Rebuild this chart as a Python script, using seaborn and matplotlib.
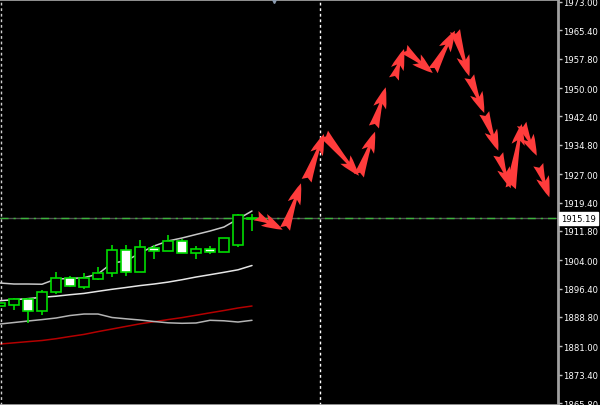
import numpy as np
import pandas as pd
import seaborn as sns
import matplotlib
matplotlib.use("Agg")
import matplotlib.pyplot as plt

# candle data (bar index 0..18)
opens  = [1891.7, 1892.08, 1893.60, 1890.48, 1895.55, 1899.14, 1896.89, 1898.95, 1900.55, 1906.70,
          1900.90, 1907.32, 1906.35, 1909.03, 1905.98, 1906.89, 1906.17, 1908.12, 1915.00]
highs  = [1892.5, 1893.87, 1893.90, 1896.09, 1900.90, 1899.75, 1900.55, 1902.16, 1908.04, 1908.04,
          1909.38, 1908.12, 1910.79, 1909.64, 1907.85, 1907.85, 1909.91, 1916.30, 1916.30]
lows   = [1891.7, 1890.66, 1887.19, 1889.41, 1894.94, 1896.89, 1896.35, 1898.70, 1899.48, 1899.83,
          1900.90, 1904.30, 1906.35, 1905.90, 1904.30, 1905.63, 1906.17, 1907.58, 1911.70]
closes = [1892.5, 1893.60, 1890.48, 1895.55, 1899.30, 1897.16, 1899.14, 1900.55, 1906.70, 1900.90,
          1907.42, 1906.51, 1909.03, 1905.90, 1906.89, 1906.17, 1909.91, 1916.14, 1915.19]

# indicator lines
upper_band = [1897.88, 1897.61, 1897.61, 1897.55, 1898.95, 1899.08, 1899.30, 1900.29, 1903.23, 1903.77,
              1905.90, 1907.77, 1909.11, 1909.91, 1910.85, 1911.78, 1912.85, 1914.99, 1917.13]
mid_line   = [1893.15, 1893.42, 1893.71, 1894.06, 1894.35, 1894.75, 1895.10, 1895.66, 1896.20, 1896.68,
              1897.19, 1897.61, 1898.12, 1898.76, 1899.48, 1900.10, 1900.74, 1901.41, 1902.56]
lower_line = [1886.92, 1887.32, 1887.72, 1888.10, 1888.52, 1889.19, 1889.59, 1889.59, 1888.66, 1888.31,
              1887.99, 1887.59, 1887.24, 1887.11, 1887.19, 1887.91, 1887.78, 1887.45, 1887.91]
red_line   = [1881.57, 1881.89, 1882.21, 1882.51, 1882.99, 1883.58, 1884.14, 1884.89, 1885.58, 1886.28,
              1886.97, 1887.53, 1888.10, 1888.63, 1889.27, 1889.91, 1890.53, 1891.20, 1891.73]

# forecast arrows (start -> end, in bar index / price)
arr_x0 = [18.29, 20.36, 21.90, 23.14, 25.64, 26.71, 28.14, 28.86, 30.93, 32.50, 33.52, 34.59, 35.59, 36.48, 37.26, 38.45]
arr_y0 = [1915.87, 1912.32, 1925.23, 1937.71, 1926.56, 1939.59, 1952.42, 1960.44, 1954.63, 1965.33,
          1953.14, 1943.33, 1932.37, 1923.20, 1940.39, 1929.50]
arr_x1 = [20.19, 21.50, 23.14, 25.64, 26.79, 27.55, 28.86, 30.91, 32.50, 33.52, 34.59, 35.59, 36.48, 37.26, 38.34, 39.24]
arr_y1 = [1912.13, 1924.53, 1937.71, 1926.56, 1938.33, 1950.20, 1960.44, 1954.02, 1965.33, 1953.14,
          1943.33, 1933.25, 1923.20, 1940.39, 1931.91, 1920.79]

price_ticks = [1973.00, 1965.40, 1957.80, 1950.00, 1942.40, 1934.80, 1927.00, 1919.40,
               1911.80, 1904.00, 1896.40, 1888.80, 1881.00, 1873.40, 1865.80]
last_price = 1915.19
separator_x = 22.86
marker_x = 19.6

sns.set_style("dark", {"axes.facecolor": "black", "figure.facecolor": "black"})

fig = plt.figure(figsize=(6, 4.06), dpi=100)
ax = fig.add_axes([0, 0, 558 / 600, 1])
ax.set_facecolor("black")

idx = np.arange(len(opens))
df = pd.DataFrame({"idx": idx, "upper": upper_band, "mid": mid_line, "lower": lower_line, "red": red_line})

# indicator lines
sns.lineplot(data=df, x="idx", y="red", color="#b40000", lw=1.1, ax=ax)
sns.lineplot(data=df, x="idx", y="lower", color="#b4b4b4", lw=1.1, ax=ax)
sns.lineplot(data=df, x="idx", y="mid", color="#e6e6e6", lw=1.1, ax=ax)
sns.lineplot(data=df, x="idx", y="upper", color="#c8c8c8", lw=1.1, ax=ax)

# price line: grey with green dash-dot on top
ax.axhline(last_price, color="#505050", lw=1.0, zorder=2)
ax.axhline(last_price, color="#3cb43c", lw=1.0, ls=(0, (5.8, 3.6, 1.6, 3.6)), zorder=2)

# candles
green = "#00dd00"
o = np.array(opens); c = np.array(closes)
ax.vlines(idx, lows, highs, color=green, lw=1.2, zorder=3)
fill = np.where(c >= o, "black", "white")
ax.bar(idx, np.maximum(np.abs(c - o), 0.05), bottom=np.minimum(o, c), width=0.65,
       color=fill, edgecolor=green, lw=1.2, zorder=4)

# arrows
for x0, y0, x1, y1 in zip(arr_x0, arr_y0, arr_x1, arr_y1):
    ax.annotate("", xy=(x1, y1), xytext=(x0, y0),
                arrowprops=dict(arrowstyle="fancy,head_length=0.8,head_width=0.5,tail_width=0.4",
                                color="#ff3c3c", lw=0, shrinkA=0, shrinkB=0, mutation_scale=19),
                zorder=5)

# separators
ax.axvline(separator_x, color="white", lw=1, ls=(0, (2, 2)))
ax.axvline(0.04, color="#d0d0d0", lw=1, ls=(0, (2, 2)))
ax.plot(marker_x, 1973.6, marker="v", ms=5, color="#8c9cb0", clip_on=False, zorder=6)

ax.set_xlim(0, 558 / 14)
ax.set_ylim(1865.27, 1973.80)
ax.set_xticks([])
ax.set_xlabel("")
ax.set_ylabel("")
ax.yaxis.tick_right()
ax.set_yticks(price_ticks)
ax.set_yticklabels([f"{v:.2f}" for v in price_ticks])
ax.tick_params(axis="y", colors="#c0c0c0", labelcolor="white", length=3, width=1, pad=1, labelsize=6.1)
ax.grid(False)
for side in ["top", "bottom", "right"]:
    ax.spines[side].set_visible(True)
    ax.spines[side].set_color("#a0a0a0")
    ax.spines[side].set_linewidth(2)
ax.spines["left"].set_visible(False)

ax.annotate(f"{last_price:.2f}", xy=(1.006, last_price), xycoords=("axes fraction", "data"),
            ha="left", va="center", fontsize=6.1, color="black",
            bbox=dict(boxstyle="square,pad=0.25", fc="white", ec="white"))

fig.savefig("out.png", dpi=100, facecolor="black")
